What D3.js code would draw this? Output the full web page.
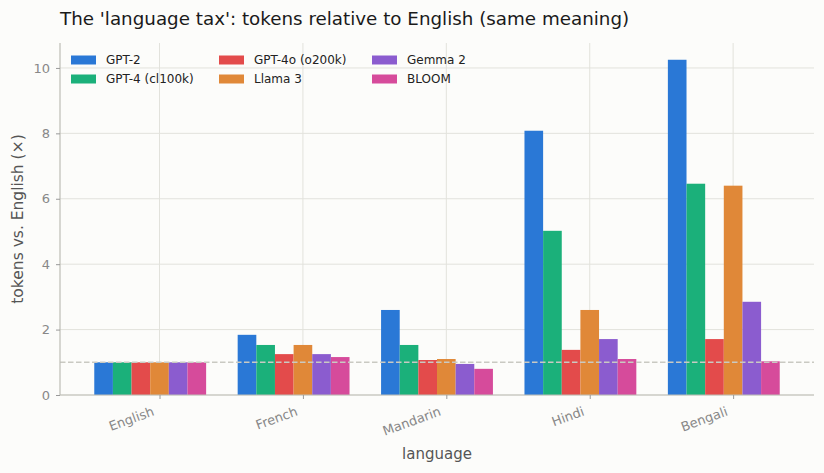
<!DOCTYPE html>
<html>
<head>
<meta charset="utf-8">
<script src="https://cdn.jsdelivr.net/npm/d3@7"></script>
<style>
  body { margin: 0; background: #fcfcfa; }
  svg { display: block; font-family: "DejaVu Sans", sans-serif; }
</style>
</head>
<body>
<div id="graph"></div>
<script>
// data
var languages = ["English", "French", "Mandarin", "Hindi", "Bengali"];
var tokenizers = ["GPT-2", "GPT-4 (cl100k)", "GPT-4o (o200k)", "Llama 3", "Gemma 2", "BLOOM"];
var colors = ["#2a78d6", "#1bb07a", "#e34b4b", "#e08838", "#8b5ccf", "#d64b9b"];
var gpt2   = [1.0, 1.84, 2.60, 8.08, 10.25];
var gpt4   = [1.0, 1.53, 1.53, 5.02, 6.46];
var gpt4o  = [1.0, 1.25, 1.07, 1.38, 1.71];
var llama3 = [1.0, 1.53, 1.10, 2.60, 6.40];
var gemma2 = [1.0, 1.25, 0.95, 1.71, 2.85];
var bloom  = [1.0, 1.16, 0.80, 1.10, 1.03];
var series = [gpt2, gpt4, gpt4o, llama3, gemma2, bloom];
var yTicks = [0, 2, 4, 6, 8, 10];

var SVGwidth = 824,
	SVGheight = 473,
	margin = {top: 43, right: 10, bottom: 78, left: 60},
	width = SVGwidth - margin.left - margin.right,
	height = SVGheight - margin.top - margin.bottom;

var barW = 0.13;
var font = "DejaVu Sans, sans-serif";

var svg = d3.select('div#graph')
	.append('svg')
	.attr('width', SVGwidth)
	.attr('height', SVGheight);

svg.append("rect")
	.attr("width", SVGwidth)
	.attr("height", SVGheight)
	.attr("fill", "#fcfcfa");

// bar offsets are (j - 3) * barW, so groups sit a little left of the tick
var lo = -3 * barW - barW / 2,
	hi = (languages.length - 1) + 2 * barW + barW / 2,
	pad = (hi - lo) * 0.05;

var x = d3.scaleLinear()
	.domain([lo - pad, hi + pad])
	.range([0, width]);

var ymax = d3.max(series, function(s) { return d3.max(s); });
var y = d3.scaleLinear()
	.domain([0, ymax * 1.05])
	.range([height, 0]);

var g = svg.append("g")
	.attr("transform", "translate(" + margin.left + "," + margin.top + ")");

// grid
g.append("g")
	.selectAll("line")
	.data(yTicks)
	.enter()
	.append("line")
	.attr("x1", 0)
	.attr("x2", width)
	.attr("y1", function(d) { return y(d); })
	.attr("y2", function(d) { return y(d); })
	.attr("stroke", "#e2e2dc")
	.attr("stroke-width", 1);

g.append("g")
	.selectAll("line")
	.data(languages)
	.enter()
	.append("line")
	.attr("x1", function(d, i) { return x(i); })
	.attr("x2", function(d, i) { return x(i); })
	.attr("y1", 0)
	.attr("y2", height)
	.attr("stroke", "#e2e2dc")
	.attr("stroke-width", 1);

// bars
series.forEach(function(s, j) {
	g.append("g")
		.selectAll("rect")
		.data(s)
		.enter()
		.append("rect")
		.attr("x", function(d, i) { return x(i + (j - 3) * barW - barW / 2); })
		.attr("width", x(barW) - x(0))
		.attr("y", function(d) { return y(d); })
		.attr("height", function(d) { return y(0) - y(d); })
		.attr("fill", colors[j]);
});

// parity line
g.append("line")
	.attr("x1", 0)
	.attr("x2", width)
	.attr("y1", y(1))
	.attr("y2", y(1))
	.attr("stroke", "#c9c9c2")
	.attr("stroke-width", 1.6)
	.attr("stroke-dasharray", "5.5,2.5");

// axes
var yAxis = g.append("g")
	.call(d3.axisLeft(y).tickValues(yTicks).tickSize(4).tickPadding(6));
var xAxis = g.append("g")
	.attr("transform", "translate(0," + height + ")")
	.call(d3.axisBottom(x).tickValues(d3.range(languages.length)).tickSize(4)
		.tickFormat(function(i) { return languages[i]; }));

[yAxis, xAxis].forEach(function(a) {
	a.attr("font-family", font).attr("font-size", 13);
	a.select(".domain").attr("stroke", "#bdbdb5").attr("stroke-width", 1.2);
	a.selectAll(".tick line").attr("stroke", "#999");
	a.selectAll(".tick text").attr("fill", "#888");
});
yAxis.select(".domain").attr("d", "M0," + height + "V0");
xAxis.select(".domain").attr("d", "M0,0H" + width);

xAxis.selectAll(".tick text")
	.attr("text-anchor", "end")
	.attr("y", 0)
	.attr("dy", "0")
	.attr("transform", "translate(-5,20) rotate(-20)");

// labels
svg.append("text")
	.attr("x", 60)
	.attr("y", 25)
	.attr("font-size", 18.3)
	.attr("fill", "#1a1a1a")
	.text("The 'language tax': tokens relative to English (same meaning)");

svg.append("text")
	.attr("x", margin.left + width / 2)
	.attr("y", 459)
	.attr("text-anchor", "middle")
	.attr("font-size", 15)
	.attr("fill", "#555")
	.text("language");

svg.append("text")
	.attr("transform", "translate(23," + (margin.top + height / 2) + ") rotate(-90)")
	.attr("text-anchor", "middle")
	.attr("font-size", 15.5)
	.attr("fill", "#555")
	.text("tokens vs. English (×)");

// legend, three columns of two
var legend = svg.append("g");
var colX = [71, 219, 372],
	rowY = [60, 79];
tokenizers.forEach(function(name, j) {
	var cx = colX[Math.floor(j / 2)],
		cy = rowY[j % 2];
	legend.append("rect")
		.attr("x", cx)
		.attr("y", cy - 4.5)
		.attr("width", 25)
		.attr("height", 9)
		.attr("fill", colors[j]);
	legend.append("text")
		.attr("x", cx + 35)
		.attr("y", cy)
		.attr("dy", "0.35em")
		.attr("font-size", 12)
		.attr("fill", "#222")
		.text(name);
});
</script>
</body>
</html>
